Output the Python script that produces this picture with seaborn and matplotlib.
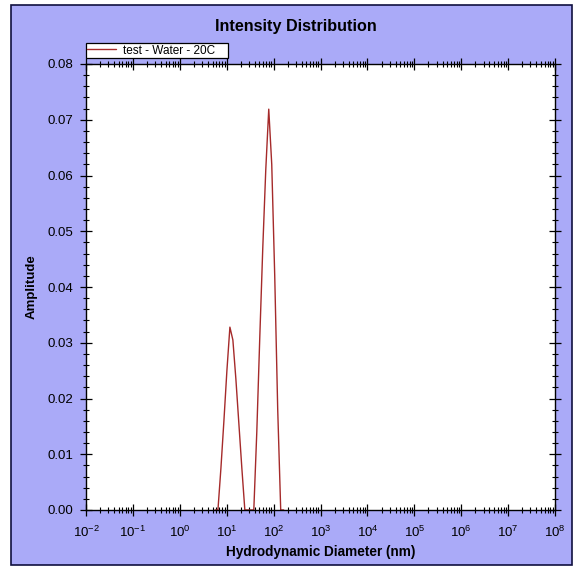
import matplotlib
matplotlib.use("Agg")
import matplotlib.pyplot as plt
from matplotlib.patches import Rectangle
from matplotlib.ticker import LogLocator, MultipleLocator, FormatStrFormatter, NullFormatter
import numpy as np
import pandas as pd
import seaborn as sns

# ---- data ----
sizes_nm = [5.615, 6.503, 7.531, 8.721, 10.10, 11.70, 13.54, 15.69, 18.17, 21.04,
            24.36, 28.21, 32.67, 37.84, 43.82, 50.75, 58.77, 68.06, 78.82, 91.28,
            105.7, 122.4, 141.8, 164.2]
amplitude = [0.0, 0.0, 0.0075, 0.016, 0.025, 0.0328, 0.0305, 0.0235, 0.0155, 0.0075,
             0.0, 0.0, 0.0, 0.0, 0.014, 0.031, 0.047, 0.061, 0.0719, 0.062,
             0.042, 0.018, 0.0, 0.0]
series_name = "test - Water - 20C"
title = "Intensity Distribution"
x_label = "Hydrodynamic Diameter (nm)"
y_label = "Amplitude"

df = pd.DataFrame({"size": sizes_nm, "amp": amplitude, "series": series_name})

sns.set_style("ticks")
plt.rcParams["font.family"] = ["Liberation Sans", "DejaVu Sans"]
plt.rcParams["mathtext.default"] = "regular"
plt.rcParams["mathtext.fontset"] = "custom"
plt.rcParams["mathtext.rm"] = "Liberation Sans"
plt.rcParams["text.color"] = "black"
plt.rcParams["axes.labelcolor"] = "black"
plt.rcParams["xtick.color"] = "black"
plt.rcParams["ytick.color"] = "black"

W, H = 583, 576
fig = plt.figure(figsize=(W / 100, H / 100), dpi=100)
fig.patch.set_facecolor("white")
bg = "#aaaaf8"
frame = Rectangle((11 / W, 1 - 565 / H), (572 - 11) / W, (565 - 5) / H,
                  transform=fig.transFigure, facecolor=bg,
                  edgecolor="#101040", linewidth=1.2, zorder=-10)
fig.patches.append(frame)

ax = fig.add_axes([86 / W, 1 - 510 / H, (555 - 86) / W, (510 - 64) / H])
ax.set_zorder(1)
ax.set_facecolor("white")

sns.lineplot(data=df, x="size", y="amp", hue="series", palette=["#a52a2a"],
             linewidth=1.0, ax=ax, estimator=None, sort=False)

ax.set_xscale("log")
ax.set_xlim(1e-2, 1e8)
ax.set_ylim(0, 0.08)

ax.xaxis.set_major_locator(LogLocator(base=10, numticks=20))
ax.xaxis.set_minor_locator(LogLocator(base=10, subs=np.arange(2, 10), numticks=200))
ax.xaxis.set_minor_formatter(NullFormatter())
ax.yaxis.set_major_locator(MultipleLocator(0.01))
ax.yaxis.set_minor_locator(MultipleLocator(0.002))
ax.yaxis.set_major_formatter(FormatStrFormatter("%.2f"))

for side in ["top", "right", "bottom", "left"]:
    ax.spines[side].set_visible(True)
    ax.spines[side].set_color("black")
    ax.spines[side].set_linewidth(1.0)

ax.tick_params(axis="both", which="major", direction="inout", length=8, width=0.9,
               colors="black", labelsize=9.5, top=True, right=True)
ax.tick_params(axis="both", which="minor", direction="inout", length=5, width=0.8,
               colors="black", top=True, right=True)
ax.tick_params(axis="x", which="major", pad=7)
ax.tick_params(axis="y", which="major", pad=5)

ax.set_xlabel(x_label, fontsize=9.8, fontweight="bold", labelpad=3)
ax.set_ylabel(y_label, fontsize=9.5, fontweight="bold", labelpad=7)
fig.text(296 / W, 1 - 26 / H, title, ha="center", va="center",
         fontsize=11.6, fontweight="bold")

leg = ax.legend(loc="lower left", bbox_to_anchor=(0, 1.0135, 142 / 469, 0.02),
                mode="expand", borderaxespad=0,
                frameon=True, fancybox=False, framealpha=1, edgecolor="black",
                fontsize=8.5, handlelength=2.4, borderpad=0.12, handletextpad=0.6,
                title=None)
leg.get_frame().set_linewidth(0.9)

fig.savefig("out.png", dpi=100, facecolor=fig.get_facecolor())
